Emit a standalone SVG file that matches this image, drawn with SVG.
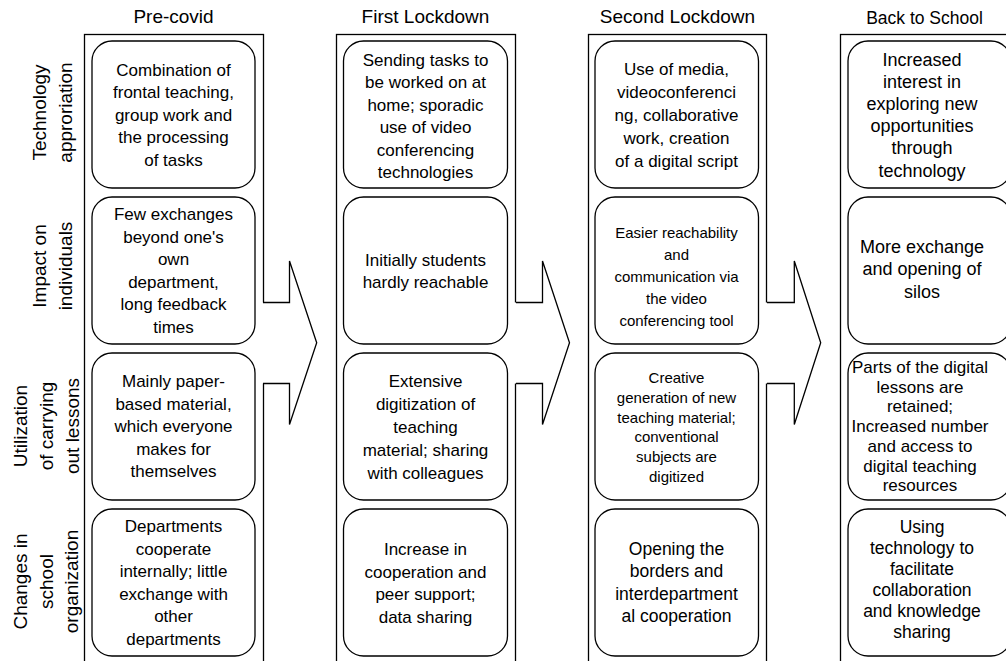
<svg xmlns="http://www.w3.org/2000/svg" width="1006" height="661" viewBox="0 0 1006 661">
<style>
.col{fill:#fff;stroke:#000;stroke-width:1.3}
.box{fill:#fff;stroke:#000;stroke-width:1.3}
.afill{fill:#fff;stroke:none}
.aline{fill:none;stroke:#000;stroke-width:1.3;stroke-linejoin:miter}
text{font-family:"Liberation Sans",Arial,sans-serif;fill:#000;text-anchor:middle}
.ti{font-size:19px}
.lb{font-size:19px}
.s17{font-size:17px}
.s175{font-size:17.5px}
.s18{font-size:18px}
.s15{font-size:15px}
</style>
<rect width="1006" height="661" fill="#fff"/>
<g id="col-precovid"><rect class="col" x="84.5" y="34.5" width="179" height="640"/><text class="ti" x="173.5" y="23">Pre-covid</text></g>
<g id="col-first"><rect class="col" x="336.5" y="34.5" width="179" height="640"/><text class="ti" x="425.5" y="23">First Lockdown</text></g>
<g id="col-second"><rect class="col" x="588.5" y="34.5" width="178" height="640"/><text class="ti" x="677.5" y="23">Second Lockdown</text></g>
<g id="col-back"><rect class="col" x="840.5" y="34.5" width="179" height="640"/><text class="ti" x="924.5" y="23.5" style="font-size:17.5px">Back to School</text></g>

<g id="connectors">
<g id="arrow1"><polygon class="afill" points="261,302.5 289.5,302.5 289.5,261 316.7,342.7 289.5,424.5 289.5,383.5 261,383.5"/><path class="aline" d="M263,302.5 H289.5 V261 L316.7,342.7 L289.5,424.5 V383.5 H263"/></g>
<g id="arrow2"><polygon class="afill" points="514,302.5 542.5,302.5 542.5,261 569.5,342.7 542.5,424.5 542.5,383.5 514,383.5"/><path class="aline" d="M516,302.5 H542.5 V261 L569.5,342.7 L542.5,424.5 V383.5 H516"/></g>
<g id="arrow3"><polygon class="afill" points="765,302.5 794.3,302.5 794.3,261 820.7,342.7 794.3,424.5 794.3,383.5 765,383.5"/><path class="aline" d="M767,302.5 H794.3 V261 L820.7,342.7 L794.3,424.5 V383.5 H767"/></g>
</g>

<g id="label-tech"><text class="lb" transform="translate(46,112.5) rotate(-90)"><tspan x="0" y="0">Technology</tspan><tspan x="0" y="25.5">approriation</tspan></text></g>
<g id="label-impact"><text class="lb" transform="translate(46,266) rotate(-90)"><tspan x="0" y="0">Impact on</tspan><tspan x="0" y="25.5">individuals</tspan></text></g>
<g id="label-util"><text class="lb" transform="translate(27.3,426) rotate(-90)"><tspan x="0" y="0">Utilization</tspan><tspan x="0" y="26">of carrying</tspan><tspan x="0" y="52">out lessons</tspan></text></g>
<g id="label-changes"><text class="lb" transform="translate(27.3,581.5) rotate(-90)"><tspan x="0" y="0">Changes in</tspan><tspan x="0" y="26">school</tspan><tspan x="0" y="51">organization</tspan></text></g>

<g id="n-c1r1"><rect class="box" x="92" y="41" width="163" height="147" rx="20"/><text class="s17"><tspan x="173.5" y="75.5">Combination of</tspan><tspan x="173.5" y="98">frontal teaching,</tspan><tspan x="173.5" y="120.5">group work and</tspan><tspan x="173.5" y="143">the processing</tspan><tspan x="173.5" y="165.5">of tasks</tspan></text></g>
<g id="n-c1r2"><rect class="box" x="92" y="197" width="163" height="147" rx="20"/><text class="s17"><tspan x="173.5" y="220">Few exchanges</tspan><tspan x="173.5" y="242.5">beyond one's</tspan><tspan x="173.5" y="265">own</tspan><tspan x="173.5" y="287.5">department,</tspan><tspan x="173.5" y="310">long feedback</tspan><tspan x="173.5" y="332.5">times</tspan></text></g>
<g id="n-c1r3"><rect class="box" x="92" y="353" width="163" height="147" rx="20"/><text class="s17"><tspan x="173.5" y="387">Mainly paper-</tspan><tspan x="173.5" y="409.5">based material,</tspan><tspan x="173.5" y="432">which everyone</tspan><tspan x="173.5" y="454.5">makes for</tspan><tspan x="173.5" y="477">themselves</tspan></text></g>
<g id="n-c1r4"><rect class="box" x="92" y="509" width="163" height="147" rx="20"/><text class="s17"><tspan x="173.5" y="532">Departments</tspan><tspan x="173.5" y="554.5">cooperate</tspan><tspan x="173.5" y="577">internally; little</tspan><tspan x="173.5" y="599.5">exchange with</tspan><tspan x="173.5" y="622">other</tspan><tspan x="173.5" y="644.5">departments</tspan></text></g>

<g id="n-c2r1"><rect class="box" x="343.5" y="41" width="164" height="147" rx="20"/><text class="s17"><tspan x="425.5" y="65.5">Sending tasks to</tspan><tspan x="425.5" y="88">be worked on at</tspan><tspan x="425.5" y="110.5">home; sporadic</tspan><tspan x="425.5" y="133">use of video</tspan><tspan x="425.5" y="155.5">conferencing</tspan><tspan x="425.5" y="178">technologies</tspan></text></g>
<g id="n-c2r2"><rect class="box" x="343.5" y="197" width="164" height="147" rx="20"/><text class="s17"><tspan x="425.5" y="266">Initially students</tspan><tspan x="425.5" y="288">hardly reachable</tspan></text></g>
<g id="n-c2r3"><rect class="box" x="343.5" y="353" width="164" height="147" rx="20"/><text class="s17"><tspan x="425.5" y="386.5">Extensive</tspan><tspan x="425.5" y="409.5">digitization of</tspan><tspan x="425.5" y="432.5">teaching</tspan><tspan x="425.5" y="455.5">material; sharing</tspan><tspan x="425.5" y="478.5">with colleagues</tspan></text></g>
<g id="n-c2r4"><rect class="box" x="343.5" y="509" width="164" height="147" rx="20"/><text class="s17"><tspan x="425.5" y="555">Increase in</tspan><tspan x="425.5" y="577.7">cooperation and</tspan><tspan x="425.5" y="600.3">peer support;</tspan><tspan x="425.5" y="623">data sharing</tspan></text></g>

<g id="n-c3r1"><rect class="box" x="595" y="41" width="163.5" height="147" rx="20"/><text class="s17"><tspan x="676.5" y="75">Use of media,</tspan><tspan x="676.5" y="97.9">videoconferenci</tspan><tspan x="676.5" y="120.8">ng, collaborative</tspan><tspan x="676.5" y="143.7">work, creation</tspan><tspan x="676.5" y="166.6">of a digital script</tspan></text></g>
<g id="n-c3r2"><rect class="box" x="595" y="197" width="163.5" height="147" rx="20"/><text class="s15"><tspan x="676.5" y="237.5">Easier reachability</tspan><tspan x="676.5" y="259.6">and</tspan><tspan x="676.5" y="281.7">communication via</tspan><tspan x="676.5" y="303.8">the video</tspan><tspan x="676.5" y="325.9">conferencing tool</tspan></text></g>
<g id="n-c3r3"><rect class="box" x="595" y="353" width="163.5" height="147" rx="20"/><text class="s15"><tspan x="676.5" y="383.3">Creative</tspan><tspan x="676.5" y="403">generation of new</tspan><tspan x="676.5" y="422.7">teaching material;</tspan><tspan x="676.5" y="442.4">conventional</tspan><tspan x="676.5" y="462.1">subjects are</tspan><tspan x="676.5" y="481.8">digitized</tspan></text></g>
<g id="n-c3r4"><rect class="box" x="595" y="509" width="163.5" height="147" rx="20"/><text class="s175"><tspan x="676.5" y="555">Opening the</tspan><tspan x="676.5" y="577.3">borders and</tspan><tspan x="676.5" y="599.6">interdepartment</tspan><tspan x="676.5" y="621.9">al cooperation</tspan></text></g>

<g id="n-c4r1"><rect class="box" x="848" y="41" width="163" height="147" rx="20"/><text class="s18"><tspan x="922" y="66">Increased</tspan><tspan x="922" y="88.1">interest in</tspan><tspan x="922" y="110.2">exploring new</tspan><tspan x="922" y="132.3">opportunities</tspan><tspan x="922" y="154.4">through</tspan><tspan x="922" y="176.5">technology</tspan></text></g>
<g id="n-c4r2"><rect class="box" x="848" y="197" width="163" height="147" rx="20"/><text class="s18"><tspan x="922" y="253">More exchange</tspan><tspan x="922" y="275.3">and opening of</tspan><tspan x="922" y="297.6">silos</tspan></text></g>
<g id="n-c4r3"><rect class="box" x="848" y="353" width="163" height="147" rx="20"/><text class="s17"><tspan x="920" y="373">Parts of the digital</tspan><tspan x="920" y="392.7">lessons are</tspan><tspan x="920" y="412.4">retained;</tspan><tspan x="920" y="432.1">Increased number</tspan><tspan x="920" y="451.8">and access to</tspan><tspan x="920" y="471.5">digital teaching</tspan><tspan x="920" y="491.2">resources</tspan></text></g>
<g id="n-c4r4"><rect class="box" x="848" y="509" width="163" height="147" rx="20"/><text class="s175"><tspan x="922" y="533.3">Using</tspan><tspan x="922" y="554.3">technology to</tspan><tspan x="922" y="575.3">facilitate</tspan><tspan x="922" y="596.3">collaboration</tspan><tspan x="922" y="617.3">and knowledge</tspan><tspan x="922" y="638.3">sharing</tspan></text></g>
</svg>
